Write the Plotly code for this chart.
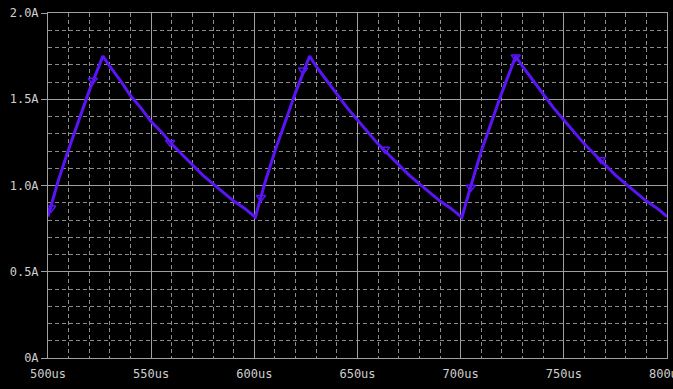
import plotly.graph_objects as go

# Waveform samples (time in us, current in A)
time_us = [
    500, 505, 510, 515, 520, 526.6,
    530, 535, 540, 545, 550, 555, 560, 565, 570, 575, 580, 585, 590, 595, 600.5,
    605, 610, 615, 620, 626.8,
    630, 635, 640, 645, 650, 655, 660, 665, 670, 675, 680, 685, 690, 695, 700.6,
    705, 710, 715, 720, 726.7,
    730, 735, 740, 745, 750, 755, 760, 765, 770, 775, 780, 785, 790, 795, 800,
]
current_a = [
    0.82, 1.03, 1.21, 1.38, 1.55, 1.75,
    1.69, 1.61, 1.52, 1.45, 1.37, 1.31, 1.24, 1.18, 1.12, 1.06, 1.01, 0.96, 0.91, 0.87, 0.816,
    1.01, 1.20, 1.37, 1.54, 1.75,
    1.69, 1.61, 1.53, 1.45, 1.38, 1.31, 1.24, 1.18, 1.12, 1.06, 1.01, 0.96, 0.91, 0.87, 0.815,
    1.00, 1.20, 1.37, 1.54, 1.75,
    1.69, 1.61, 1.53, 1.45, 1.38, 1.31, 1.24, 1.18, 1.12, 1.06, 1.01, 0.96, 0.91, 0.87, 0.82,
]

# Trace symbol markers
marker_t = [501.5, 521.7, 559.2, 603.2, 623.6, 663.3, 704.9, 726.7, 768.0]
marker_i = [0.87, 1.61, 1.25, 0.93, 1.67, 1.21, 0.99, 1.745, 1.15]

x_tickvals = [500, 550, 600, 650, 700, 750, 800]
x_ticktext = ["500us", "550us", "600us", "650us", "700us", "750us", "800us"]
y_tickvals = [0, 0.5, 1.0, 1.5, 2.0]
y_ticktext = ["0A", "0.5A", "1.0A", "1.5A", "2.0A"]

trace_color = "#5a14f5"
grid_color = "#a0a0a0"
minor_color = "#8c8c8c"
text_color = "#cfcfcf"

fig = go.Figure()
fig.add_trace(go.Scatter(
    x=time_us, y=current_a, mode="lines",
    line=dict(color=trace_color, width=3),
    showlegend=False, hoverinfo="skip",
))
fig.add_trace(go.Scatter(
    x=marker_t, y=marker_i, mode="markers",
    marker=dict(symbol="triangle-down-open", size=8, color=trace_color,
                line=dict(color=trace_color, width=1.5)),
    showlegend=False, hoverinfo="skip",
))

fig.update_layout(
    width=673, height=389,
    margin=dict(l=48, r=6, t=13, b=31, autoexpand=False),
    paper_bgcolor="black", plot_bgcolor="black",
    font=dict(family="DejaVu Sans Mono", size=12, color=text_color),
    showlegend=False,
)
fig.update_xaxes(
    range=[500, 800], tickvals=x_tickvals, ticktext=x_ticktext,
    showgrid=True, gridcolor=grid_color, gridwidth=1,
    showline=True, linecolor=grid_color, linewidth=1, mirror=True,
    zeroline=False, ticks="", ticklabelstandoff=5, automargin=False,
    ticklabeloverflow="allow",
    minor=dict(dtick=10, tick0=500, showgrid=True, gridcolor=minor_color,
               griddash="4px,3px", gridwidth=1, ticks=""),
)
fig.update_yaxes(
    range=[0, 2.0], tickvals=y_tickvals, ticktext=y_ticktext,
    showgrid=True, gridcolor=grid_color, gridwidth=1,
    showline=True, linecolor=grid_color, linewidth=1, mirror=True,
    zeroline=False, ticks="outside", ticklen=6, tickcolor=grid_color,
    automargin=False, ticklabeloverflow="allow",
    minor=dict(dtick=0.1, tick0=0, showgrid=True, gridcolor=minor_color,
               griddash="4px,3px", gridwidth=1, ticks=""),
)

fig.write_html(
    "out.html",
    config={"displayModeBar": False},
    post_script="document.body.style.margin='0';document.body.style.background='black';",
)
